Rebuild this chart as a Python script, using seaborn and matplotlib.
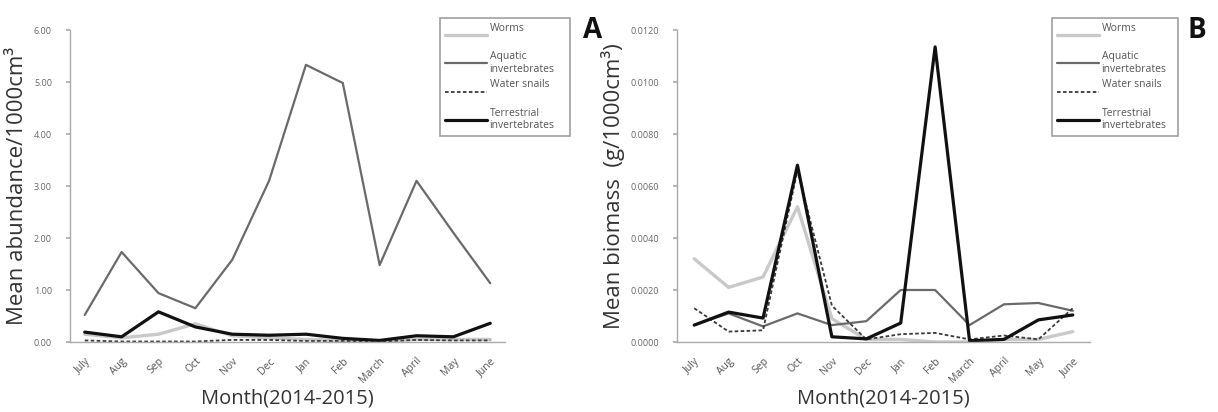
import numpy as np
import pandas as pd
import matplotlib
matplotlib.use("Agg")
import matplotlib.pyplot as plt
import seaborn as sns

months = ["July", "Aug", "Sep", "Oct", "Nov", "Dec", "Jan", "Feb", "March", "April", "May", "June"]

# Panel A: mean abundance /1000cm3
abund_worms = [0.15, 0.08, 0.15, 0.35, 0.12, 0.08, 0.05, 0.03, 0.02, 0.05, 0.05, 0.05]
abund_aquatic = [0.52, 1.73, 0.94, 0.65, 1.58, 3.10, 5.33, 4.98, 1.48, 3.10, 2.10, 1.13]
abund_snails = [0.03, 0.01, 0.01, 0.01, 0.04, 0.04, 0.02, 0.02, 0.01, 0.04, 0.03, 0.03]
abund_terr = [0.19, 0.10, 0.58, 0.29, 0.15, 0.13, 0.15, 0.07, 0.03, 0.12, 0.10, 0.36]

# Panel B: mean biomass g/1000cm3
bio_worms = [0.0032, 0.0021, 0.0025, 0.0052, 0.0009, 0.0001, 0.0001, 0.0000, 0.0000, 0.0001, 0.0001, 0.0004]
bio_aquatic = [0.00065, 0.0011, 0.0006, 0.0011, 0.00065, 0.0008, 0.0020, 0.0020, 0.00065, 0.00145, 0.0015, 0.0012]
bio_snails = [0.0013, 0.0004, 0.00045, 0.0066, 0.0014, 0.0001, 0.0003, 0.00035, 0.0001, 0.00025, 0.0001, 0.0013]
bio_terr = [0.00065, 0.00115, 0.00092, 0.0068, 0.0002, 0.00012, 0.00073, 0.01135, 0.00005, 0.0001, 0.00085, 0.00104]

labels = ["Worms\n ", "Aquatic\ninvertebrates", "Water snails\n ", "Terrestrial\ninvertebrates"]
labels_b = ["Worms\n ", "Aquatic\ninvertebrates", "Water snails\n ", "Terrestrial\ninvertebrates"]

sns.set_theme(style="white")
plt.rcParams["font.family"] = ["Open Sans", "DejaVu Sans"]

W, H = 1218, 412
fig = plt.figure(figsize=(W / 100, H / 100), dpi=100)
fig.patch.set_facecolor("white")


def px_axes(l, r, t, b):
    return fig.add_axes([l / W, (H - b) / H, (r - l) / W, (b - t) / H])


styles = [
    dict(color="#c9c9c9", lw=2.4, ls="-"),
    dict(color="#6a6a6a", lw=1.6, ls="-"),
    dict(color="#3a3a3a", lw=1.3, ls=(0, (2.0, 1.3))),
    dict(color="#111111", lw=2.3, ls="-"),
]


def draw(ax, series, labs, ylim, yticks, yfmt, ylabel, xlim):
    for vals, st, lab in zip(series, styles, labs):
        df = pd.DataFrame({"Month": months, "v": vals})
        sns.lineplot(data=df, x="Month", y="v", ax=ax, color=st["color"],
                     linewidth=st["lw"], linestyle=st["ls"], label=lab,
                     sort=False, legend=False)
    ax.set_ylim(*ylim)
    ax.set_xlim(*xlim)
    ax.set_yticks(yticks)
    ax.set_yticklabels([yfmt.format(v) for v in yticks], fontsize=6.5, color="#666666")
    ax.set_xticks(range(len(months)))
    ax.set_xticklabels(months, rotation=45, fontsize=7.5, color="#555555", ha="right",
                       rotation_mode="anchor")
    for s in ["top", "right"]:
        ax.spines[s].set_visible(False)
    for s in ["left", "bottom"]:
        ax.spines[s].set_color("#aaaaaa")
        ax.spines[s].set_linewidth(1.0)
    ax.tick_params(axis="y", left=True, length=3, color="#aaaaaa", pad=10)
    ax.tick_params(axis="x", bottom=False, pad=4)
    ax.set_xlabel("Month(2014-2015)", fontsize=14.5, color="#333333", labelpad=2)
    ax.set_ylabel(ylabel, fontsize=16, color="#333333", labelpad=4)
    ax.set_facecolor("white")


axA = px_axes(70, 505, 30, 342)
draw(axA, [abund_worms, abund_aquatic, abund_snails, abund_terr], labels,
     (0, 6), [0, 1, 2, 3, 4, 5, 6], "{:.2f}", "Mean abundance/1000cm³", (-0.4, 11.4))

axB = px_axes(677, 1090, 30, 342)
draw(axB, [bio_worms, bio_aquatic, bio_snails, bio_terr], labels_b,
     (0, 0.012), [0, 0.002, 0.004, 0.006, 0.008, 0.010, 0.012], "{:.4f}",
     "Mean biomass  (g/1000cm³)", (-0.5, 11.5))


def legend(ax, x0, x1, y0, y1):
    handles, labs = ax.get_legend_handles_labels()
    leg = fig.legend(handles, labs, loc="upper left",
                     bbox_to_anchor=(x0 / W, (H - y1) / H, (x1 - x0) / W, (y1 - y0) / H),
                     bbox_transform=fig.transFigure, mode="expand",
                     fontsize=7.5, frameon=True, fancybox=False, handlelength=4.0,
                     handletextpad=0.3, labelspacing=0.45, borderpad=0.45,
                     labelcolor="#555555")
    leg.get_frame().set_edgecolor("#888888")
    leg.get_frame().set_linewidth(1.2)
    return leg


legend(axA, 435, 575, 13, 168)
legend(axB, 1047, 1183, 13, 168)

fig.text(583 / W, 1 - 38 / H, "A", fontsize=20, fontweight="bold", color="#111111")
fig.text(1188 / W, 1 - 38 / H, "B", fontsize=20, fontweight="bold", color="#111111")

fig.savefig("out.png", dpi=100, facecolor="white")
